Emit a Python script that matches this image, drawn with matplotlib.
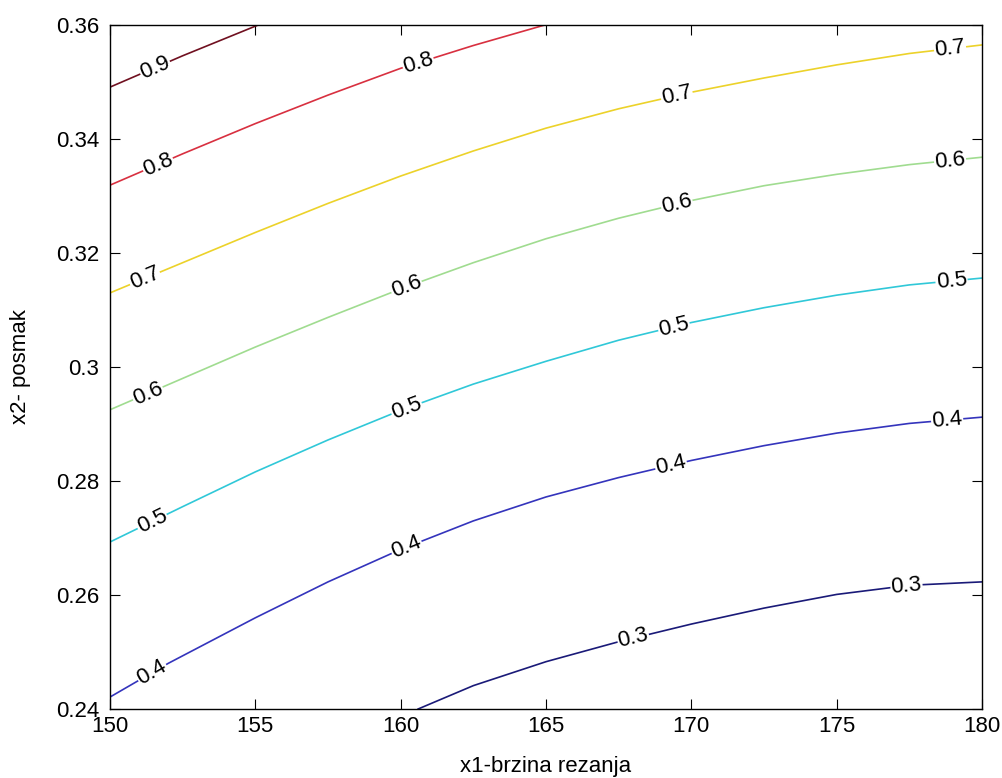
import numpy as np
import matplotlib.pyplot as plt

# contour levels and their colours (jet-like, as in the original)
levels = [0.3, 0.4, 0.5, 0.6, 0.7, 0.8, 0.9]
colors = ['#1a1a78', '#3434bc', '#30c8d8', '#a0dc90', '#ecd22a', '#d83040', '#701020']

# points (x1, x2)
x_03 = [160.6, 162.5, 165.0, 167.5, 170.0, 172.5, 175.0, 177.5, 180.0]
y_03 = [0.2400, 0.2441, 0.2483, 0.2518, 0.2549, 0.2577, 0.2601, 0.2617, 0.2623]

x_04 = [150.0, 152.0, 155.0, 157.5, 160.0, 162.5, 165.0, 167.5, 170.0, 172.5, 175.0, 177.5, 180.0]
y_04 = [0.2421, 0.2480, 0.2560, 0.2623, 0.2680, 0.2730, 0.2772, 0.2806, 0.2836,
        0.2862, 0.2884, 0.2901, 0.2912]

x_05 = [150.0, 152.5, 155.0, 157.5, 160.0, 162.5, 165.0, 167.5, 170.0, 172.5, 175.0, 177.5, 180.0]
y_05 = [0.2693, 0.2755, 0.2816, 0.2872, 0.2924, 0.2970, 0.3010, 0.3047, 0.3078,
        0.3104, 0.3126, 0.3144, 0.3156]

x_06 = [150.0, 152.5, 155.0, 157.5, 160.0, 162.5, 165.0, 167.5, 170.0, 172.5, 175.0, 177.5, 180.0]
y_06 = [0.2925, 0.2980, 0.3035, 0.3087, 0.3137, 0.3183, 0.3225, 0.3261, 0.3292,
        0.3318, 0.3338, 0.3355, 0.3368]

x_07 = [150.0, 152.5, 155.0, 157.5, 160.0, 162.5, 165.0, 167.5, 170.0, 172.5, 175.0, 177.5, 180.0]
y_07 = [0.3130, 0.3183, 0.3236, 0.3287, 0.3335, 0.3379, 0.3419, 0.3453, 0.3482,
        0.3507, 0.3530, 0.3550, 0.3565]

x_08 = [150.0, 152.5, 155.0, 157.5, 160.0, 162.5, 164.96]
y_08 = [0.3319, 0.3374, 0.3427, 0.3477, 0.3524, 0.3564, 0.3600]

x_09 = [150.0, 152.5, 155.1]
y_09 = [0.3491, 0.3546, 0.3600]

lines_x = [x_03, x_04, x_05, x_06, x_07, x_08, x_09]
lines_y = [y_03, y_04, y_05, y_06, y_07, y_08, y_09]

# x1 positions of the inline labels on each line
label_x = [
    [168.0, 177.4],
    [151.45, 160.2, 169.3, 178.8],
    [151.45, 160.2, 169.4, 178.95],
    [151.3, 160.2, 169.5, 178.9],
    [151.2, 169.5, 178.9],
    [151.65, 160.6],
    [151.55],
]

xticks = [150, 155, 160, 165, 170, 175, 180]
yticks = [0.24, 0.26, 0.28, 0.3, 0.32, 0.34, 0.36]
ytick_labels = ['0.24', '0.26', '0.28', '0.3', '0.32', '0.34', '0.36']

plt.rcParams['font.family'] = ['Liberation Sans', 'DejaVu Sans']

fig = plt.figure(figsize=(10.03, 7.78), dpi=100)
ax = fig.add_axes([0.1097, 0.0887, 0.8694, 0.8792])

for xs, ys, c in zip(lines_x, lines_y, colors):
    ax.plot(xs, ys, color=c, lw=1.2)

ax.set_xlim(150, 180)
ax.set_ylim(0.24, 0.36)
ax.set_xticks(xticks)
ax.set_yticks(yticks)
ax.set_yticklabels(ytick_labels)
ax.tick_params(direction='in', length=7, top=True, right=True,
               labelsize=16, colors='black')
ax.tick_params(axis='x', pad=5)
ax.tick_params(axis='y', pad=8)
for s in ax.spines.values():
    s.set_linewidth(1.0)

ax.set_xlabel('x1-brzina rezanja', fontsize=16, labelpad=14)
ax.set_ylabel('x2- posmak', fontsize=16, labelpad=18)

fig.canvas.draw()
for lev, xs, ys, lxs in zip(levels, lines_x, lines_y, label_x):
    for lx in lxs:
        ly = np.interp(lx, xs, ys)
        p0 = ax.transData.transform((lx - 0.5, np.interp(lx - 0.5, xs, ys)))
        p1 = ax.transData.transform((lx + 0.5, np.interp(lx + 0.5, xs, ys)))
        ang = np.degrees(np.arctan2(p1[1] - p0[1], p1[0] - p0[0]))
        ax.text(lx, ly, '%g' % lev, fontsize=16, rotation=ang,
                rotation_mode='anchor', ha='center', va='center',
                bbox=dict(fc='white', ec='none', pad=0.5), zorder=3)

fig.savefig('out.png', dpi=100)
